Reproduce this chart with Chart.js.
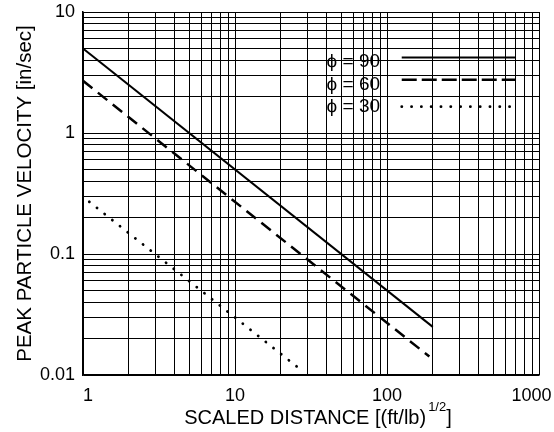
<!DOCTYPE html>
<html>
<head>
<meta charset="UTF-8">
<title>Peak particle velocity vs scaled distance</title>
<style>
    body { margin: 0; background: #fff; }
    canvas { display: block; }
</style>
</head>
<body>
<canvas id="chart" width="554" height="432"></canvas>
<script src="https://cdn.jsdelivr.net/npm/chart.js"></script>
<script>
    // data
    const distance90 = [1, 200];
    const velocity90 = [5.0, 0.025];
    const distance60 = [1, 190];
    const velocity60 = [2.7, 0.0142];
    const distance30 = [1.1, 28];
    const velocity30 = [0.27, 0.0107];

    const seriesNames = ['ϕ = 90', 'ϕ = 60', 'ϕ = 30'];
    const xTickLabels = ['1', '10', '100', '1000'];
    const yTickLabels = ['0.01', '0.1', '1', '10'];

    const FONT = "'Liberation Sans', Arial, Helvetica, sans-serif";

    function toPoints(xs, ys) {
        return xs.map((x, i) => ({ x: x, y: ys[i] }));
    }

    // ticks at 1..9 of every decade, so every grid line is drawn
    function decadeTicks(labels) {
        return function (scale) {
            const ticks = [];
            const lo = Math.log10(Number(labels[0]));
            const hi = Math.log10(Number(labels[labels.length - 1]));
            for (let e = lo; e <= hi; e++) {
                const base = Math.pow(10, e);
                for (let m = 1; m <= 9; m++) {
                    const v = +(m * base).toPrecision(6);
                    if (e === hi && m > 1) break;
                    ticks.push({ value: v });
                }
            }
            scale.ticks = ticks;
        };
    }

    function decadeLabel(labels, pad) {
        return function (value) {
            const hit = labels.find(l => Math.abs(Number(l) - value) < 1e-9 * Math.max(1, value));
            if (!hit) return '';
            return pad && pad[hit] !== undefined ? pad[hit] : hit;
        };
    }

    // legend drawn inside the plot, upper right
    const insideLegend = {
        id: 'insideLegend',
        afterDatasetsDraw(chart) {
            const ctx = chart.ctx;
            const xs = chart.scales.x, ys = chart.scales.y;
            const textRight = xs.getPixelForValue(90);
            const lineFrom = xs.getPixelForValue(125);
            const lineTo = xs.getPixelForValue(706);
            const textRows = [3.9, 2.5, 1.65];
            const lineRows = [4.2, 2.75, 1.65];
            ctx.save();
            ctx.fillStyle = '#000';
            ctx.font = '19px ' + FONT;
            ctx.textAlign = 'right';
            ctx.textBaseline = 'middle';
            chart.data.datasets.forEach((ds, i) => {
                ctx.fillText(seriesNames[i], textRight, ys.getPixelForValue(textRows[i]));
                const ly = ys.getPixelForValue(lineRows[i]);
                ctx.beginPath();
                ctx.strokeStyle = '#000';
                ctx.lineWidth = ds.borderWidth;
                ctx.lineCap = ds.borderCapStyle || 'butt';
                ctx.setLineDash(i === 1 ? [15, 5] : (ds.borderDash || []));
                ctx.moveTo(lineFrom, ly);
                ctx.lineTo(lineTo, ly);
                ctx.stroke();
            });
            ctx.restore();
        }
    };

    // x axis title with a superscript exponent
    const xTitle = {
        id: 'xTitle',
        afterDraw(chart) {
            const ctx = chart.ctx;
            const main = 'SCALED DISTANCE [(ft/lb)';
            const sup = '1/2';
            const tail = ']';
            ctx.save();
            ctx.fillStyle = '#000';
            ctx.textBaseline = 'alphabetic';
            ctx.textAlign = 'left';
            ctx.font = '20px ' + FONT;
            const w1 = ctx.measureText(main).width;
            const w3 = ctx.measureText(tail).width;
            ctx.font = '13px ' + FONT;
            const w2 = ctx.measureText(sup).width;
            const total = w1 + 2 + w2 + w3;
            let x = 318 - total / 2;
            const base = 424;
            ctx.font = '20px ' + FONT;
            ctx.fillText(main, x, base);
            x += w1 + 2;
            ctx.font = '13px ' + FONT;
            ctx.fillText(sup, x, base - 13);
            x += w2;
            ctx.font = '20px ' + FONT;
            ctx.fillText(tail, x, base);
            ctx.restore();
        }
    };

    new Chart(document.getElementById('chart'), {
        type: 'line',
        data: {
            datasets: [
                {
                    label: seriesNames[0],
                    data: toPoints(distance90, velocity90),
                    borderColor: '#000',
                    borderWidth: 2,
                    pointRadius: 0
                },
                {
                    label: seriesNames[1],
                    data: toPoints(distance60, velocity60),
                    borderColor: '#000',
                    borderWidth: 2.5,
                    borderDash: [12, 7],
                    pointRadius: 0
                },
                {
                    label: seriesNames[2],
                    data: toPoints(distance30, velocity30),
                    borderColor: '#000',
                    borderWidth: 2.8,
                    borderDash: [0.1, 9.7],
                    borderCapStyle: 'round',
                    pointRadius: 0
                }
            ]
        },
        options: {
            responsive: false,
            animation: false,
            events: [],
            layout: { padding: { left: 0, right: 15, top: 12, bottom: 0 } },
            plugins: {
                legend: { display: false },
                tooltip: { enabled: false }
            },
            scales: {
                x: {
                    type: 'logarithmic',
                    min: 1,
                    max: 1000,
                    grid: { color: '#000', lineWidth: 1, drawTicks: false },
                    border: { color: '#000', width: 1.5 },
                    ticks: {
                        autoSkip: false,
                        maxRotation: 0,
                        padding: 10,
                        color: '#000',
                        font: { size: 18, family: FONT },
                        callback: decadeLabel(xTickLabels, { '1': '  1', '1000': '1000   ' })
                    },
                    afterBuildTicks: decadeTicks(xTickLabels),
                    afterFit(s) {
                        s.height = 57;
                        s.paddingLeft = 0;
                        s.paddingRight = 0;
                    }
                },
                y: {
                    type: 'logarithmic',
                    min: 0.01,
                    max: 10,
                    grid: { color: '#000', lineWidth: 1, drawTicks: false },
                    border: { color: '#000', width: 1.5 },
                    ticks: {
                        autoSkip: false,
                        padding: 8,
                        color: '#000',
                        font: { size: 18, family: FONT },
                        callback: decadeLabel(yTickLabels)
                    },
                    title: {
                        display: true,
                        text: 'PEAK PARTICLE VELOCITY [in/sec]',
                        color: '#000',
                        font: { size: 20.5, family: FONT },
                        padding: { top: 13, bottom: 0 }
                    },
                    afterBuildTicks: decadeTicks(yTickLabels),
                    afterFit(s) {
                        s.width = 83;
                        s.paddingTop = 0;
                        s.paddingBottom = 0;
                    }
                }
            }
        },
        plugins: [insideLegend, xTitle]
    });
</script>
</body>
</html>
